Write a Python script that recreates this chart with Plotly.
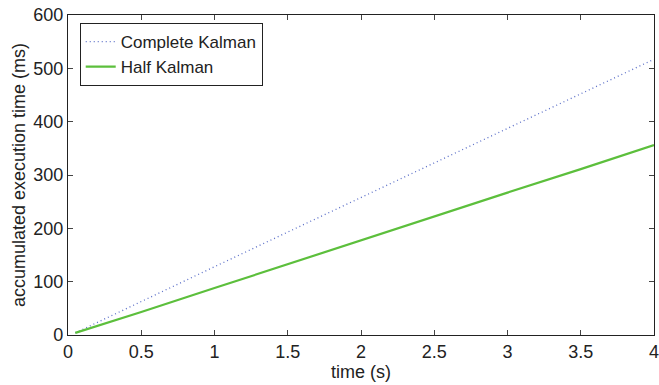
import plotly.graph_objects as go

# Accumulated execution time of the two filter variants
time_s = [0.05, 0.5, 1.0, 1.5, 2.0, 2.5, 3.0, 3.5, 4.0]
complete_ms = [4, 62, 128, 193, 258, 323, 388, 453, 517]
half_ms = [4, 43, 88, 133, 178, 223, 267, 311, 356]

x_ticks = [0, 0.5, 1, 1.5, 2, 2.5, 3, 3.5, 4]
x_tick_text = ["0", "0.5", "1", "1.5", "2", "2.5", "3", "3.5", "4"]
y_ticks = [0, 100, 200, 300, 400, 500, 600]

font = "Liberation Sans, Arial, Helvetica, sans-serif"
fsize = 18

fig = go.Figure()
fig.add_trace(go.Scatter(
    x=time_s, y=complete_ms, mode="lines", name="Complete Kalman",
    line=dict(color="#5b6fc8", width=1.3, dash="1px,3px"),
))
fig.add_trace(go.Scatter(
    x=time_s, y=half_ms, mode="lines", name="Half Kalman",
    line=dict(color="#5cbf3c", width=2.2),
))

axis_common = dict(
    showline=True, linecolor="#222222", linewidth=1.2, mirror="ticks",
    ticks="inside", ticklen=5, tickcolor="#444444", showgrid=False,
    zeroline=False, ticklabeloverflow="allow",
    tickfont=dict(family=font, size=fsize, color="#222222"),
)

fig.update_layout(
    width=659, height=385,
    margin=dict(l=68, r=5, t=15, b=50, autoexpand=False),
    paper_bgcolor="white", plot_bgcolor="white",
    font=dict(family=font, size=fsize, color="#222222"),
    showlegend=True,
    legend=dict(
        x=0.02, y=0.975, xanchor="left", yanchor="top",
        bordercolor="#222222", borderwidth=1, bgcolor="white",
        font=dict(family=font, size=17, color="#222222"),
        tracegroupgap=0, itemwidth=30,
    ),
    xaxis=dict(
        range=[0, 4], tickvals=x_ticks, ticktext=x_tick_text,
        title=dict(text="time (s)", standoff=0,
                   font=dict(family=font, size=fsize, color="#222222")),
        **axis_common,
    ),
    yaxis=dict(
        range=[0, 600], tickvals=y_ticks,
        title=dict(text="accumulated execution time (ms)", standoff=2,
                   font=dict(family=font, size=fsize, color="#222222")),
        **axis_common,
    ),
)

fig.write_html("out.html")
